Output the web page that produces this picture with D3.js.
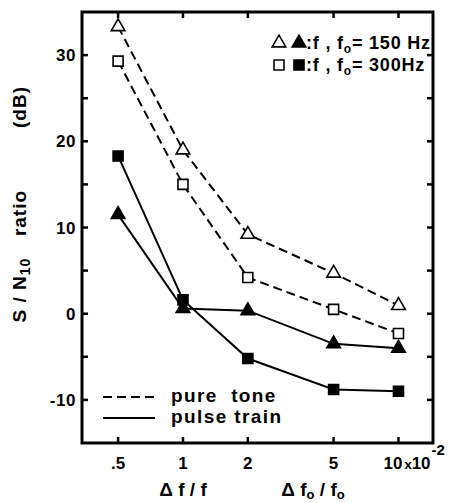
<!DOCTYPE html>
<html>
<head>
<meta charset="utf-8">
<script src="https://cdn.jsdelivr.net/npm/d3@7"></script>
<style>
  body { margin: 0; background: #fff; }
  text { font-family: "Liberation Sans", Arial, sans-serif; font-weight: bold; fill: #000; }
</style>
</head>
<body>
<svg id="chart" width="451" height="503"></svg>
<script>
// Data
const ratios = [0.5, 1, 2, 5, 10];            // x values (x10^-2)
const xTickLabels = [".5", "1", "2", "5", "10"];
const yTicks = [-15, -10, -5, 0, 5, 10, 15, 20, 25, 30, 35];
const yLabelled = [-10, 0, 10, 20, 30];

const pureTone150 = [33.3, 19.0, 9.2, 4.7, 0.95];
const pureTone300 = [29.3, 15.0, 4.2, 0.5, -2.3];
const pulse150 = [11.5, 0.6, 0.35, -3.5, -4.0];
const pulse300 = [18.3, 1.6, -5.2, -8.8, -9.0];

const svg = d3.select("#chart");

const plotLeft = 82, plotRight = 433, plotTop = 12, plotBottom = 443;

// log scale for Δf/f
const xScale = d3.scaleLog()
    .domain([0.34, 14.46])
    .range([plotLeft, plotRight]);

const yScale = d3.scaleLinear()
    .domain([-15, 35])
    .range([plotBottom, plotTop]);

// frame
svg.append("rect")
    .attr("x", plotLeft).attr("y", plotTop)
    .attr("width", plotRight - plotLeft).attr("height", plotBottom - plotTop)
    .attr("fill", "none").attr("stroke", "#000").attr("stroke-width", 3);

// inward ticks on all four sides
const tickLen = 6;
const ticksY = yTicks.filter(d => d > -15 && d < 35);
svg.append("g").selectAll("line").data(ticksY).join("line")
    .attr("x1", plotLeft).attr("x2", plotLeft + tickLen)
    .attr("y1", d => yScale(d)).attr("y2", d => yScale(d))
    .attr("stroke", "#000").attr("stroke-width", 2.5);
svg.append("g").selectAll("line").data(ticksY).join("line")
    .attr("x1", plotRight).attr("x2", plotRight - tickLen)
    .attr("y1", d => yScale(d)).attr("y2", d => yScale(d))
    .attr("stroke", "#000").attr("stroke-width", 2.5);
svg.append("g").selectAll("line").data(ratios).join("line")
    .attr("x1", d => xScale(d)).attr("x2", d => xScale(d))
    .attr("y1", plotBottom).attr("y2", plotBottom - tickLen)
    .attr("stroke", "#000").attr("stroke-width", 2.5);
svg.append("g").selectAll("line").data(ratios).join("line")
    .attr("x1", d => xScale(d)).attr("x2", d => xScale(d))
    .attr("y1", plotTop).attr("y2", plotTop + tickLen)
    .attr("stroke", "#000").attr("stroke-width", 2.5);

// y tick labels
svg.append("g").selectAll("text").data(yLabelled).join("text")
    .attr("x", plotLeft - 6)
    .attr("y", d => yScale(d) + 6)
    .attr("text-anchor", "end")
    .attr("font-size", 17)
    .attr("letter-spacing", 0.6)
    .text(d => d);

// x tick labels
const xl = svg.append("g").selectAll("text").data(ratios).join("text")
    .attr("x", d => xScale(d))
    .attr("y", 469)
    .attr("text-anchor", "middle")
    .attr("font-size", 17)
    .text((d, i) => xTickLabels[i]);

// the "x10^-2" after the last label
const last = xl.filter(d => d === 10).text(null)
    .attr("text-anchor", "start")
    .attr("x", d => xScale(d) - 15);
last.append("tspan").text("10");
last.append("tspan").attr("font-size", 13).attr("dx", 2).text("x");
last.append("tspan").text("10");
last.append("tspan").attr("font-size", 15).attr("dx", 1).attr("dy", -14).text("-2");

// axis titles
const yTitle = [
    { t: "S / N", sub: "10", y: 290 },
    { t: "ratio", y: 213 },
    { t: "(dB)", y: 107 }
];
yTitle.forEach(p => {
    const t = svg.append("text")
        .attr("transform", `translate(26,${p.y}) rotate(-90)`)
        .attr("text-anchor", "middle")
        .attr("font-size", 19)
        .attr("letter-spacing", 1);
    t.append("tspan").text(p.t);
    if (p.sub) t.append("tspan").attr("font-size", 14).attr("dy", 4).text(p.sub);
});

const xt1 = svg.append("text").attr("x", 183).attr("y", 496)
    .attr("text-anchor", "middle").attr("font-size", 19);
xt1.text("Δ f / f");
const xt2 = svg.append("text").attr("x", 313).attr("y", 496)
    .attr("text-anchor", "middle").attr("font-size", 19);
xt2.append("tspan").text("Δ f");
xt2.append("tspan").attr("font-size", 13).attr("dy", 3).text("o");
xt2.append("tspan").attr("dy", -3).text(" / f");
xt2.append("tspan").attr("font-size", 13).attr("dy", 3).text("o");

// series
const series = [
    { values: pureTone150, dash: "9,5", shape: d3.symbolTriangle, fill: "#fff", size: 80 },
    { values: pureTone300, dash: "9,5", shape: d3.symbolSquare, fill: "#fff", size: 100 },
    { values: pulse150, dash: null, shape: d3.symbolTriangle, fill: "#000", size: 80 },
    { values: pulse300, dash: null, shape: d3.symbolSquare, fill: "#000", size: 100 }
];

const line = d3.line()
    .x(d => xScale(d[0]))
    .y(d => yScale(d[1]));

series.forEach(s => {
    const pts = ratios.map((r, i) => [r, s.values[i]]);
    svg.append("path")
        .datum(pts)
        .attr("d", line)
        .attr("fill", "none")
        .attr("stroke", "#000")
        .attr("stroke-width", 2)
        .attr("stroke-dasharray", s.dash);
});
series.forEach(s => {
    const pts = ratios.map((r, i) => [r, s.values[i]]);
    svg.append("g").selectAll("path").data(pts).join("path")
        .attr("d", d3.symbol(s.shape, s.size))
        .attr("transform", d => `translate(${xScale(d[0])},${yScale(d[1])})`)
        .attr("fill", s.fill)
        .attr("stroke", "#000")
        .attr("stroke-width", 1.6);
});

// legend, top right
const legendTop = [
    { y: 43, shape: d3.symbolTriangle, size: 80, label: "150 Hz" },
    { y: 65, shape: d3.symbolSquare, size: 100, label: "300Hz" }
];
legendTop.forEach(l => {
    svg.append("path").attr("d", d3.symbol(l.shape, l.size))
        .attr("transform", `translate(279,${l.y})`)
        .attr("fill", "#fff").attr("stroke", "#000").attr("stroke-width", 1.6);
    svg.append("path").attr("d", d3.symbol(l.shape, l.size))
        .attr("transform", `translate(299,${l.y})`)
        .attr("fill", "#000").attr("stroke", "#000").attr("stroke-width", 1.6);
    const t = svg.append("text").attr("x", 306).attr("y", l.y + 6)
        .attr("font-size", 18).attr("letter-spacing", 0.8);
    t.append("tspan").text(":f , f");
    t.append("tspan").attr("font-size", 12).attr("dy", 4).text("o");
    t.append("tspan").attr("dy", -4).text("= " + l.label);
});

// legend, bottom left
const legendBottom = [
    { y: 397, dash: "9,5", label: "pure  tone" },
    { y: 418, dash: null, label: "pulse train" }
];
legendBottom.forEach(l => {
    svg.append("line")
        .attr("x1", 103).attr("x2", 155)
        .attr("y1", l.y).attr("y2", l.y)
        .attr("stroke", "#000").attr("stroke-width", 2)
        .attr("stroke-dasharray", l.dash);
    svg.append("text").attr("x", 171).attr("y", l.y + 5)
        .attr("font-size", 19)
        .attr("letter-spacing", 1.4)
        .style("white-space", "pre")
        .text(l.label);
});
</script>
</body>
</html>
